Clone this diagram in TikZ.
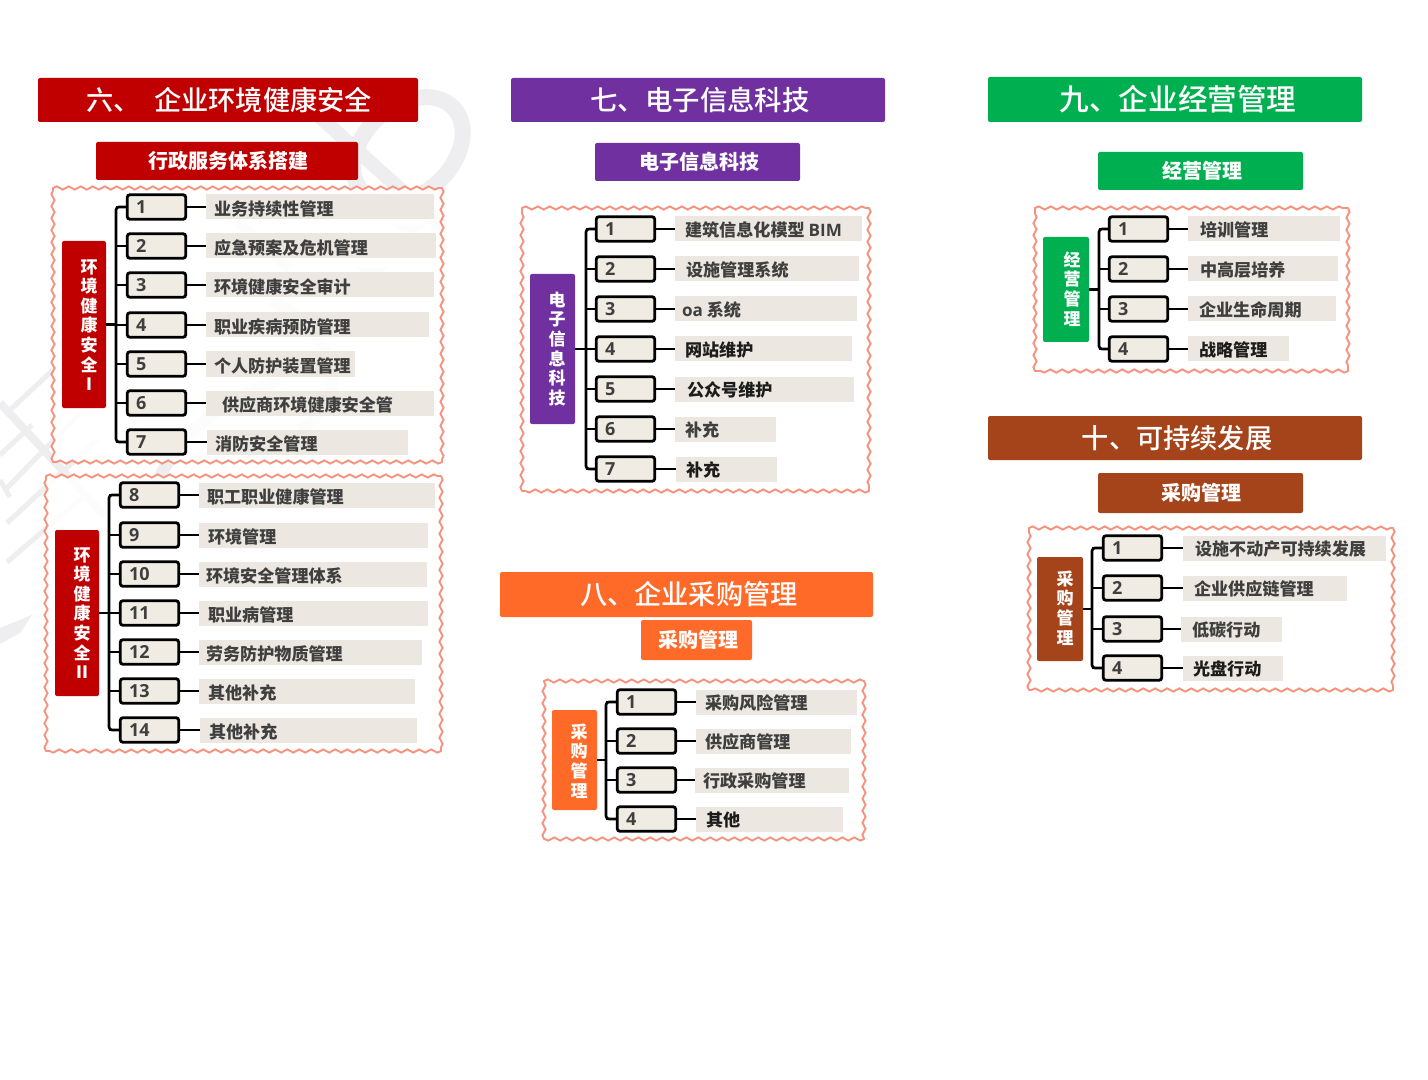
\documentclass[tikz,border=0pt]{standalone}
\usepackage{fontspec}
\usetikzlibrary{decorations.pathmorphing,calc}
\setmainfont{Noto Sans CJK SC}
\newfontfamily\medf{Noto Sans CJK SC Medium}
\newfontfamily\latinf{Open Sans}
\definecolor{cred}{HTML}{C00000}
\definecolor{cpur}{HTML}{7030A0}
\definecolor{cora}{HTML}{FF6A28}
\definecolor{cgre}{HTML}{00B050}
\definecolor{cbro}{HTML}{A5431B}
\definecolor{wave}{HTML}{F6937F}
\definecolor{rowbg}{HTML}{ECE8E1}
\definecolor{numbg}{HTML}{F0ECE4}
\definecolor{tgray}{HTML}{3F3F3F}
\definecolor{tdark}{HTML}{1C1C1C}
\definecolor{wm}{HTML}{EEEEF0}
\tikzset{
  headbox/.style={draw=none,inner sep=0,outer sep=0,text=white,rounded corners=1pt},
  panelfill/.style={fill=white,fill opacity=.88},
  panelwave/.style={draw=wave,line width=.95pt,line cap=round,
    decorate,decoration={snake,segment length=6pt,amplitude=.8pt}},
  numbox/.style={draw=black,line width=1.4pt,rounded corners=1.4pt,fill=numbg,outer sep=0,
    minimum height=12.3pt,text width=20.5pt,inner xsep=4.4pt,inner ysep=0,align=left,
    text=tgray,font=\latinf\bfseries\fontsize{9}{9}\selectfont},
  rowbox/.style={fill=rowbg,inner sep=0,outer sep=0},
  rowtext/.style={anchor=west,inner sep=0,outer sep=0,font=\bfseries\fontsize{8.55}{10}\selectfont},
  conn/.style={draw=black,line width=1.3pt},
  sidetext/.style={align=center,text=white,inner sep=0,font=\bfseries\fontsize{8.5}{9.8}\selectfont},
  wmline/.style={draw=wm,line cap=butt}
}
\def\tyoff{1.8}
% header: id colour x1 y1 x2 y2 fontsize kern text
\newcommand{\hdbox}[9]{\node[headbox,fill=#2,minimum width={(#5-#3)*.5pt},minimum height={(#6-#4)*.5pt},
  font=\fontsize{#7}{#7}\selectfont] (#1) at ({(#3+#5)/2},{(#4+#6)/2}) {\kern#8pt\raisebox{-.5pt}{#9}};}
% panel: x1 y1 x2 y2
\newcommand{\pnl}[4]{\path[panelfill] (#1,#2) rectangle (#3,#4);
  \draw[panelwave] (#1,#2) -- (#3,#2);
  \draw[panelwave] (#3,#2) -- (#3,#4);
  \draw[panelwave] (#3,#4) -- (#1,#4);
  \draw[panelwave] (#1,#4) -- (#1,#2);}
% side label: id colour x1 y1 x2 y2 xtext ytext stack
\newcommand{\sidelbl}[9]{\node[fill=#2,inner sep=0,outer sep=0,rounded corners=1pt,minimum width={(#5-#3)*.5pt},minimum height={(#6-#4)*.5pt}]
  (#1) at ({(#3+#5)/2},{(#4+#6)/2}) {};
  \node[sidetext] (#1t) at (#7,#8) {#9};}
% row: id n boxleft y bgleft bgright textleft colour text
\newcommand{\rw}[9]{\node[numbox] (#1#2) at ({#3+30.5},#4) {#2};
  \node[rowbox,minimum width={(#6-#5)*.5pt},minimum height=12.5pt] (#1#2b) at ({(#5+#6)/2},#4) {};
  \node[rowtext,text=#8] (#1#2t) at (#7,{#4+\tyoff}) {#9};
  \draw[conn] (#1#2.east) -- (#1#2b.west);
  \draw[conn] (#1#2.west) -- (#1#2.west -| #1sp);}
% spine: id first last
\newcommand{\spine}[3]{\draw[conn,rounded corners=1.5pt] (#2.west) -- (#2.west -| #1sp) -- (#3.west -| #1sp) -- (#3.west);
  \draw[conn] (#1.east) -- (#1.east -| #1sp);}
\begin{document}
\begin{tikzpicture}[x=.5pt,y=-.5pt]
\useasboundingbox (0,0) rectangle (1428,1080);
\fill[white] (0,0) rectangle (1428,1080);
% watermark
\draw[wmline,line width=8pt,rotate around={42:(408,150)}] (408,150) ellipse [x radius=62,y radius=44];
\draw[wmline,line width=7pt] (310,108) -- (440,225);
\draw[wmline,line width=5pt] (220,205) -- (290,270);
\draw[wmline,line width=4pt] (0,403) -- (105,516);
\draw[wmline,line width=2.5pt] (10,410) -- (53,370);
\draw[wmline,line width=2.5pt] (0,455) -- (32,425);
\draw[wmline,line width=2.5pt] (7,488) -- (80,413);
\draw[wmline,line width=2.5pt] (7,523) -- (97,440);
\draw[wmline,line width=2.5pt] (7,562) -- (83,497);
\draw[wmline,line width=2.5pt] (0,480) -- (10,497);
\fill[wm] (0,628) -- (32,615) -- (20,633) -- (0,644) -- cycle;
\draw[wmline,line width=6pt] (150,500) .. controls (170,440) and (220,400) .. (280,380);
\draw[wmline,line width=6pt] (270,300) .. controls (330,330) and (360,390) .. (300,430);
\fill[wm] (392,225) -- (425,225) -- (412,238) -- cycle;
\fill[wm] (355,268) -- (388,268) -- (372,278) -- cycle;
% ---- panels
\pnl{53}{188}{442}{462}
\pnl{46}{476}{441}{751}
\pnl{522}{208}{869}{491}
\pnl{544}{681}{864}{839}
\pnl{1035}{208}{1348}{371}
\pnl{1029}{528}{1393}{690}
% ---- headers
\hdbox{h6}{cred}{38}{78}{418}{122}{13.6}{1}{\medf 六、\kern7pt 企业环境健康安全}
\hdbox{s6}{cred}{96}{142}{358}{180}{10}{1}{\bfseries 行政服务体系搭建}
\hdbox{h7}{cpur}{511}{78}{885}{122}{13.7}{2}{\medf 七、电子信息科技}
\hdbox{s7}{cpur}{595}{143}{800}{181}{10}{2}{\bfseries 电子信息科技}
\hdbox{h8}{cora}{500}{572}{873}{617}{13.6}{2.4}{\medf 八、企业采购管理}
\hdbox{s8}{cora}{641}{620}{752}{660}{10}{2}{\bfseries 采购管理}
\hdbox{h9}{cgre}{988}{77}{1362}{122}{14.8}{3}{\medf 九、企业经营管理}
\hdbox{s9}{cgre}{1098}{152}{1303}{190}{10}{1.5}{\bfseries 经营管理}
\hdbox{h10}{cbro}{988}{416}{1362}{460}{13.6}{2}{\medf 十、可持续发展}
\hdbox{s10}{cbro}{1098}{473}{1303}{513}{10}{1}{\bfseries 采购管理}
% ---- group A
\coordinate (Asp) at (116,0);
\sidelbl{A}{cred}{62}{241}{106}{408}{89}{325}{环\\境\\健\\康\\安\\全\\I}
\rw{A}{1}{126}{207}{206}{434}{214}{tgray}{业务持续性管理}
\rw{A}{2}{126}{246}{206}{436}{214}{tgray}{应急预案及危机管理}
\rw{A}{3}{126}{285}{206}{434}{214}{tgray}{环境健康安全审计}
\rw{A}{4}{126}{325}{206}{429}{214}{tgray}{职业疾病预防管理}
\rw{A}{5}{126}{364}{206}{355}{214}{tgray}{个人防护装置管理}
\rw{A}{6}{126}{403}{206}{434}{222}{tgray}{供应商环境健康安全管}
\rw{A}{7}{126}{442}{207}{408}{215}{tgray}{消防安全管理}
\spine{A}{A1}{A7}
% ---- group B
\coordinate (Bsp) at (109,0);
\sidelbl{B}{cred}{55}{530}{99}{696}{82}{613}{环\\境\\健\\康\\安\\全\\II}
\rw{B}{8}{119}{495}{199}{435}{207}{tgray}{职工职业健康管理}
\rw{B}{9}{119}{535}{199}{428}{208}{tgray}{环境管理}
\rw{B}{10}{119}{574}{199}{427}{206}{tgray}{环境安全管理体系}
\rw{B}{11}{119}{613}{199}{428}{208}{tgray}{职业病管理}
\rw{B}{12}{119}{652}{199}{422}{206}{tgray}{劳务防护物质管理}
\rw{B}{13}{119}{691}{199}{415}{208}{tgray}{其他补充}
\rw{B}{14}{119}{730}{200}{417}{209}{tgray}{其他补充}
\spine{B}{B8}{B14}
\def\tyoff{1}
% ---- group C
\coordinate (Csp) at (586,0);
\sidelbl{C}{cpur}{530}{274}{575}{424}{557}{349}{电\\子\\信\\息\\科\\技}
\rw{C}{1}{595}{229}{675}{862}{685}{tgray}{建筑信息化模型 {\latinf BIM}}
\rw{C}{2}{595}{269}{675}{859}{686}{tgray}{设施管理系统}
\rw{C}{3}{595}{309}{675}{857}{682}{tgray}{{\latinf oa} 系统}
\rw{C}{4}{595}{349}{675}{852}{685}{tdark}{网站维护}
\rw{C}{5}{595}{389}{675}{854}{687}{tdark}{公众号维护}
\rw{C}{6}{595}{429}{675}{776}{685}{tgray}{补充}
\rw{C}{7}{595}{469}{676}{777}{686}{tdark}{补充}
\spine{C}{C1}{C7}
% ---- group D
\coordinate (Dsp) at (606,0);
\sidelbl{D}{cora}{552}{710}{597}{810}{579}{761}{采\\购\\管\\理}
\rw{D}{1}{616}{702}{696}{857}{705}{tgray}{采购风险管理}
\rw{D}{2}{616}{741}{696}{851}{705}{tgray}{供应商管理}
\rw{D}{3}{616}{780}{695}{849}{703}{tgray}{行政采购管理}
\rw{D}{4}{616}{819}{696}{843}{706}{tdark}{其他}
\spine{D}{D1}{D4}
% ---- group E
\coordinate (Esp) at (1099,0);
\sidelbl{E}{cgre}{1043}{237}{1089}{342}{1072}{289}{经\\营\\管\\理}
\rw{E}{1}{1108}{229}{1188}{1340}{1200}{tgray}{培训管理}
\rw{E}{2}{1108}{269}{1188}{1338}{1200}{tgray}{中高层培养}
\rw{E}{3}{1108}{309}{1188}{1336}{1199}{tgray}{企业生命周期}
\rw{E}{4}{1108}{349}{1188}{1289}{1199}{tdark}{战略管理}
\spine{E}{E1}{E4}
% ---- group F
\coordinate (Fsp) at (1092,0);
\sidelbl{F}{cbro}{1037}{557}{1083}{661}{1065}{608}{采\\购\\管\\理}
\rw{F}{1}{1102}{548}{1183}{1386}{1195}{tgray}{设施不动产可持续发展}
\rw{F}{2}{1102}{588}{1183}{1347}{1194}{tgray}{企业供应链管理}
\rw{F}{3}{1102}{629}{1181}{1282}{1192}{tgray}{低碳行动}
\rw{F}{4}{1102}{668}{1183}{1283}{1193}{tdark}{光盘行动}
\spine{F}{F1}{F4}
\end{tikzpicture}
\end{document}
